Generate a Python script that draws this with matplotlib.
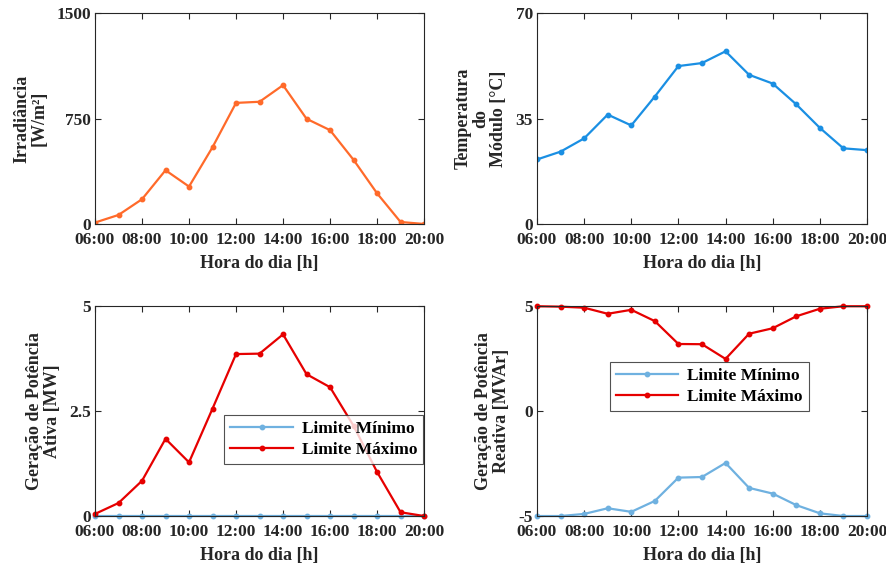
import numpy as np
import matplotlib.pyplot as plt

horas = np.arange(6, 21)
tick_labels = ['06:00', '08:00', '10:00', '12:00', '14:00', '16:00', '18:00', '20:00']

irradiancia = [10, 64, 176, 382, 266, 546, 861, 869, 987, 748, 667, 456, 218, 14, 0]
temperatura = [21.4, 24.0, 28.4, 36.3, 32.7, 42.3, 52.4, 53.4, 57.3, 49.5, 46.6, 39.7, 31.9, 25.1, 24.5]
p_min = [0, 0, 0, 0, 0, 0, 0, 0, 0, 0, 0, 0, 0, 0, 0]
p_max = [0.05, 0.31, 0.84, 1.84, 1.28, 2.56, 3.86, 3.87, 4.33, 3.38, 3.07, 2.15, 1.05, 0.09, 0.0]
q_min = [-5.0, -5.0, -4.90, -4.63, -4.80, -4.28, -3.17, -3.14, -2.47, -3.66, -3.93, -4.48, -4.87, -5.0, -5.0]
q_max = [5.0, 4.98, 4.93, 4.64, 4.83, 4.29, 3.20, 3.19, 2.49, 3.69, 3.95, 4.52, 4.88, 5.0, 5.0]

plt.rcParams['font.family'] = ['Liberation Serif', 'DejaVu Serif']
plt.rcParams['font.weight'] = 'bold'
plt.rcParams['axes.labelweight'] = 'bold'
plt.rcParams['axes.unicode_minus'] = False

fig = plt.figure(figsize=(8.87, 5.67), dpi=100)

pos = [[0.1071, 0.605, 0.371, 0.372],
       [0.6054, 0.605, 0.372, 0.372],
       [0.1071, 0.0899, 0.371, 0.370],
       [0.6054, 0.0899, 0.372, 0.370]]
axs = [fig.add_axes(p) for p in pos]


def estilo(ax, ylim, yticks, ylabel):
    ax.set_xlim(6, 20)
    ax.set_ylim(*ylim)
    ax.set_xticks(np.arange(6, 21, 2))
    ax.set_xticklabels(tick_labels)
    ax.set_yticks(yticks)
    ax.tick_params(direction='in', top=True, right=True, labelsize=12.5,
                   length=4, width=0.8, color='#262626', labelcolor='#262626')
    ax.tick_params(axis='x', pad=6)
    ax.tick_params(axis='y', pad=3)
    for s in ax.spines.values():
        s.set_color('#262626')
        s.set_linewidth(0.8)
    ax.set_xlabel('Hora do dia [h]', fontsize=13, color='#262626', labelpad=5)
    ax.set_ylabel(ylabel, fontsize=13, color='#262626', linespacing=1.05, labelpad=6)


mk = dict(marker='o', markersize=3.2, linewidth=1.6)
leg_kw = dict(fontsize=12.5, frameon=True, fancybox=False, edgecolor='#262626',
              handlelength=3.6, borderpad=0.35, labelspacing=0.25, handletextpad=0.5,
              borderaxespad=0)

axs[0].plot(horas, irradiancia, color='#FF6A2A', **mk)
estilo(axs[0], (0, 1500), [0, 750, 1500], 'Irradiância\n[W/m²]')

axs[1].plot(horas, temperatura, color='#1A8FE3', **mk)
estilo(axs[1], (0, 70), [0, 35, 70], 'Temperatura\ndo\nMódulo [°C]')

axs[2].plot(horas, p_min, color='#6FB1E0', label='Limite Mínimo', clip_on=False, **mk)
axs[2].plot(horas, p_max, color='#E60000', label='Limite Máximo', clip_on=False, **mk)
estilo(axs[2], (0, 5), [0, 2.5, 5], 'Geração de Potência\nAtiva [MW]')
axs[2].set_yticklabels(['0', '2.5', '5'])
leg = axs[2].legend(loc='upper right', bbox_to_anchor=(0.997, 0.481), **leg_kw)
leg.get_frame().set_linewidth(0.8)

axs[3].plot(horas, q_min, color='#6FB1E0', label='Limite Mínimo', clip_on=False, **mk)
axs[3].plot(horas, q_max, color='#E60000', label='Limite Máximo', clip_on=False, **mk)
estilo(axs[3], (-5, 5), [-5, 0, 5], 'Geração de Potência\nReativa [MVAr]')
leg = axs[3].legend(loc='upper left', bbox_to_anchor=(0.221, 0.733), **leg_kw)
leg.get_frame().set_linewidth(0.8)

plt.savefig('out.png', dpi=100)
